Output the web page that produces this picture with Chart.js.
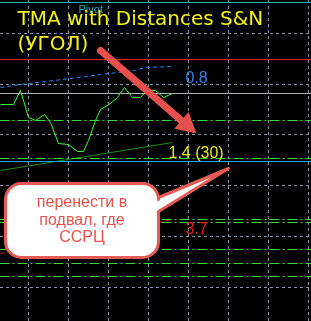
<!DOCTYPE html>
<html>
<head>
<meta charset="utf-8">
<script src="https://cdn.jsdelivr.net/npm/chart.js@4"></script>
<style>
  html, body { margin: 0; padding: 0; background: #000; overflow: hidden; }
  canvas { display: block; }
</style>
</head>
<body>
<canvas id="tmaChart" width="311" height="321"></canvas>
<script>
// -------- DATA (screen units: x = bar position, y = price level, top = 0) --------
const xGrid = [28, 68, 108, 148, 188, 228, 268, 308];
const yGrid = [33, 84, 134, 185, 236, 287];

const pivotLevel = 2;
const redLevel = 59;
const grayLevel = 93;
const blueLevel = 161;
const greenLevels = [120, 158, 219, 222, 249, 263, 276];

const tmaX = [0, 13, 20, 28, 35, 44, 50, 58, 68, 77, 83, 88, 95, 100, 110, 117, 124, 132, 140, 146, 155, 163, 172];
const tmaY = [104, 104, 90, 117, 120, 114, 122, 143, 144, 151, 151, 140, 120, 109, 103, 97, 87, 97, 97, 90, 90, 97, 93];

const trendX = [0, 172];
const trendY = [170, 142];

const upperX = [0, 20, 45, 70, 100, 135, 145, 172];
const upperY = [87, 84, 81, 78, 74, 70, 67, 66];

const lowerX = [0, 172];
const lowerY = [253, 219];

// labels on the right
const labelText = ["0.8", "1.4 (30)", "3.7"];
const labelX = [185, 168, 185];
const labelY = [82, 157, 233];
const labelColor = ["#2a82f0", "#e8e820", "#ee1c1c"];

// annotation
const titleLines = ["TMA with Distances S&N", "(УГОЛ)"];
const noteLines = ["перенести в", "подвал, где", "ССРЦ"];
const arrowFrom = [100, 50];
const arrowTo = [196, 133];
const bubbleBox = [5, 183, 158, 257];
const bubbleTip = [228, 168];

// -------- HELPERS --------
const pts = (xs, ys) => xs.map((x, i) => ({ x: x, y: ys[i] }));
const hline = y => [{ x: -1, y: y }, { x: 312, y: y }];

function lineSet(data, color, dash) {
    return {
        data: data,
        borderColor: color,
        borderWidth: 1,
        borderDash: dash || [],
        pointRadius: 0,
        tension: 0,
        fill: false
    };
}

const datasets = [
    lineSet(hline(pivotLevel), "#20b2aa"),
    lineSet(hline(redLevel), "#f01414"),
    lineSet(hline(grayLevel), "#b0b0b0"),
    lineSet(hline(blueLevel), "#1aaaf4"),
    ...greenLevels.map(y => lineSet(hline(y), "#3ad83a", [10, 3, 2, 3])),
    lineSet(pts(upperX, upperY), "#1e88ff", [4, 3]),
    lineSet(pts(lowerX, lowerY), "#e81818", [4, 3]),
    lineSet(pts(trendX, trendY), "#1a921a"),
    lineSet(pts(tmaX, tmaY), "#33ff33")
];

// -------- OVERLAY --------
const overlay = {
    id: "overlay",
    beforeDraw(chart) {
        const c = chart.ctx;
        c.save();
        c.fillStyle = "#000";
        c.fillRect(0, 0, chart.width, chart.height);
        c.restore();
    },
    afterDatasetsDraw(chart) {
        const c = chart.ctx;
        const sx = chart.scales.x, sy = chart.scales.y;
        const px = v => sx.getPixelForValue(v);
        const py = v => sy.getPixelForValue(v);
        c.save();
        c.textBaseline = "alphabetic";

        // pivot label
        c.font = "11px 'Liberation Sans', Arial";
        c.fillStyle = "#20b0b0";
        c.fillText("Pivot", px(78), py(12));

        // level labels
        c.font = "16px 'Liberation Sans', Arial";
        labelText.forEach((t, i) => {
            c.fillStyle = labelColor[i];
            c.fillText(t, px(labelX[i]), py(labelY[i]));
        });

        // title
        c.font = "20px 'DejaVu Sans'";
        c.fillStyle = "#f4f414";
        c.fillText(titleLines[0], px(17), py(24));
        c.fillText(titleLines[1], px(17), py(49));

        // arrow
        const x1 = px(arrowFrom[0]), y1 = py(arrowFrom[1]);
        const x2 = px(arrowTo[0]), y2 = py(arrowTo[1]);
        const len = Math.hypot(x2 - x1, y2 - y1);
        const ux = (x2 - x1) / len, uy = (y2 - y1) / len;
        const bx = x2 - ux * 20, by = y2 - uy * 20;
        c.strokeStyle = "#e5504d";
        c.fillStyle = "#e5504d";
        c.lineWidth = 7;
        c.lineCap = "round";
        c.beginPath();
        c.moveTo(x1, y1);
        c.lineTo(bx + ux * 2, by + uy * 2);
        c.stroke();
        c.beginPath();
        c.moveTo(x2, y2);
        c.lineTo(bx - uy * 11, by + ux * 11);
        c.lineTo(bx + uy * 11, by - ux * 11);
        c.closePath();
        c.fill();

        // callout
        const L = px(bubbleBox[0]), T = py(bubbleBox[1]);
        const R = px(bubbleBox[2]), B = py(bubbleBox[3]);
        const r = 16;
        const tx = px(bubbleTip[0]), ty = py(bubbleTip[1]);
        c.beginPath();
        c.moveTo(L + r, T);
        c.lineTo(R - r, T);
        c.arcTo(R, T, R, T + r, r);
        c.lineTo(R, py(197));
        c.lineTo(tx, ty);
        c.lineTo(R, py(211));
        c.lineTo(R, B - r);
        c.arcTo(R, B, R - r, B, r);
        c.lineTo(L + r, B);
        c.arcTo(L, B, L, B - r, r);
        c.lineTo(L, T + r);
        c.arcTo(L, T, L + r, T, r);
        c.closePath();
        c.fillStyle = "#ffffff";
        c.fill();
        c.lineWidth = 3;
        c.lineJoin = "round";
        c.strokeStyle = "#e65a55";
        c.stroke();

        c.font = "16px 'Liberation Sans', Arial";
        c.fillStyle = "#e8524a";
        c.textAlign = "center";
        c.textBaseline = "middle";
        const cx = (L + R) / 2;
        c.fillText(noteLines[0], cx, py(202));
        c.fillText(noteLines[1], cx, py(220));
        c.fillText(noteLines[2], cx, py(237));
        c.restore();
    }
};

// -------- CHART --------
const ctx = document.getElementById("tmaChart").getContext("2d");

new Chart(ctx, {
    type: "line",
    data: { datasets: datasets },
    options: {
        responsive: false,
        animation: false,
        layout: { padding: 0 },
        plugins: { legend: { display: false }, tooltip: { enabled: false } },
        scales: {
            x: {
                type: "linear",
                min: -0.5,
                max: 310.5,
                afterBuildTicks: axis => { axis.ticks = xGrid.map(v => ({ value: v })); },
                ticks: { display: false },
                grid: { color: "#8a94a8", drawTicks: false, tickLength: 0 },
                border: { display: false, dash: [3, 3] }
            },
            y: {
                type: "linear",
                min: -0.5,
                max: 320.5,
                reverse: true,
                afterBuildTicks: axis => { axis.ticks = yGrid.map(v => ({ value: v })); },
                ticks: { display: false },
                grid: { color: "#8a94a8", drawTicks: false, tickLength: 0 },
                border: { display: false, dash: [3, 3] }
            }
        }
    },
    plugins: [overlay]
});
</script>
</body>
</html>
